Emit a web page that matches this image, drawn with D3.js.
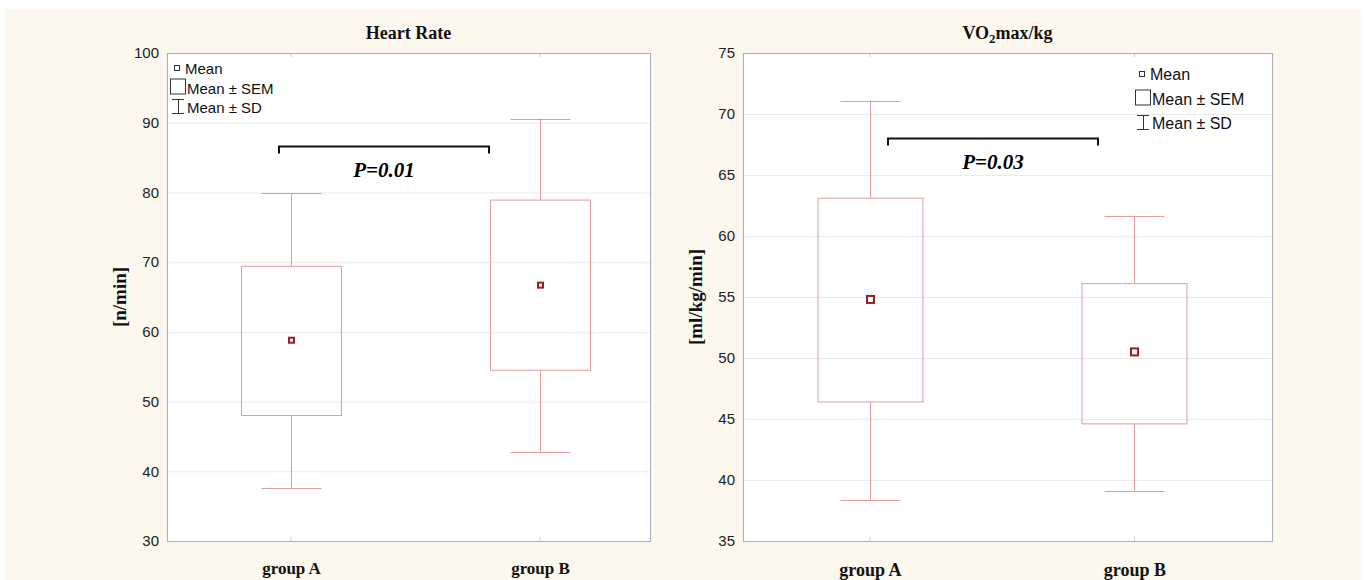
<!DOCTYPE html>
<html>
<head>
<meta charset="utf-8">
<script src="https://cdn.jsdelivr.net/npm/d3@7"></script>
<style>
  html, body { margin: 0; padding: 0; background: #fff; }
  svg { display: block; }
</style>
</head>
<body>
<svg id="chart" width="1365" height="580"></svg>
<script>
// data
var groups = [ "group A", "group B" ];

// heart rate [n/min]
var hrMean = [ 58.8, 66.7 ];
var hrSemLo = [ 48.0, 54.5 ];
var hrSemHi = [ 69.4, 78.9 ];
var hrSdLo = [ 37.6, 42.8 ];
var hrSdHi = [ 79.9, 90.6 ];
var hrTicks = [ 30, 40, 50, 60, 70, 80, 90, 100 ];

// VO2max/kg [ml/kg/min]
var voMean = [ 54.8, 50.5 ];
var voSemLo = [ 46.4, 44.6 ];
var voSemHi = [ 63.1, 56.1 ];
var voSdLo = [ 38.4, 39.1 ];
var voSdHi = [ 71.1, 61.6 ];
var voTicks = [ 35, 40, 45, 50, 55, 60, 65, 70, 75 ];

var pText = [ "P=0.01", "P=0.03" ];
var bracketAt = [ 86.6, 68.0 ];

var svg = d3.select( "#chart" );

svg.append( "rect" )
    .attr( "x", 5 ).attr( "y", 9 )
    .attr( "width", 1356 ).attr( "height", 571 )
    .attr( "fill", "#fcf8ed" );

var boxColor = "#e39a9a";
var meanColor = "#9c1c22";
var frameColor = "#a9afbd";
var serif = "Liberation Serif, Times New Roman, serif";
var sans = "Liberation Sans, Arial, sans-serif";

function drawPanel( opt ) {
    var g = svg.append( "g" );
    var x = d3.scalePoint()
        .domain( groups )
        .range( [ opt.x0, opt.x1 ] )
        .padding( opt.pad )
        .align( opt.align );
    var y = d3.scaleLinear()
        .domain( [ opt.ticks[ 0 ], opt.ticks[ opt.ticks.length - 1 ] ] )
        .range( [ opt.y1, opt.y0 ] );

    g.append( "rect" )
        .attr( "x", opt.x0 ).attr( "y", opt.y0 )
        .attr( "width", opt.x1 - opt.x0 ).attr( "height", opt.y1 - opt.y0 )
        .attr( "fill", "#fff" );

    // grid
    g.selectAll( ".grid" )
        .data( opt.ticks.slice( 1, -1 ) )
        .enter().append( "line" )
        .attr( "x1", opt.x0 ).attr( "x2", opt.x1 )
        .attr( "y1", function( d ) { return y( d ) + 0.5; } )
        .attr( "y2", function( d ) { return y( d ) + 0.5; } )
        .attr( "stroke", "#ebebeb" );

    // y axis
    var yAxis = d3.axisLeft( y ).tickValues( opt.ticks ).tickSize( 0 ).tickPadding( 8 );
    var ya = g.append( "g" ).attr( "transform", "translate(" + opt.x0 + ",0)" ).call( yAxis );
    ya.select( ".domain" ).remove();
    ya.selectAll( "text" )
        .attr( "font-family", sans )
        .attr( "font-size", 15 )
        .attr( "fill", "#222" );

    // x axis
    var xAxis = d3.axisBottom( x ).tickSize( 0 ).tickPadding( opt.xpad );
    var xa = g.append( "g" ).attr( "transform", "translate(0," + opt.y1 + ")" ).call( xAxis );
    xa.select( ".domain" ).remove();
    xa.selectAll( "text" )
        .attr( "font-family", serif )
        .attr( "font-weight", "bold" )
        .attr( "font-size", opt.xfs )
        .attr( "fill", "#111" );

    // small ticks top and bottom
    groups.forEach( function( d ) {
        g.append( "line" )
            .attr( "x1", x( d ) ).attr( "x2", x( d ) )
            .attr( "y1", opt.y0 ).attr( "y2", opt.y0 + 4 )
            .attr( "stroke", "#ccc" );
        g.append( "line" )
            .attr( "x1", x( d ) ).attr( "x2", x( d ) )
            .attr( "y1", opt.y1 ).attr( "y2", opt.y1 - 4 )
            .attr( "stroke", "#ccc" );
    } );

    // whiskers + boxes
    var bw = opt.boxW, cw = 60, ms = opt.markS;
    groups.forEach( function( d, i ) {
        var cx = Math.round( x( d ) ) + 0.5;
        g.append( "line" )
            .attr( "x1", cx ).attr( "x2", cx )
            .attr( "y1", y( opt.sdHi[ i ] ) ).attr( "y2", y( opt.semHi[ i ] ) )
            .attr( "stroke", boxColor );
        g.append( "line" )
            .attr( "x1", cx ).attr( "x2", cx )
            .attr( "y1", y( opt.semLo[ i ] ) ).attr( "y2", y( opt.sdLo[ i ] ) )
            .attr( "stroke", boxColor );
        [ opt.sdHi[ i ], opt.sdLo[ i ] ].forEach( function( v ) {
            g.append( "line" )
                .attr( "x1", cx - cw / 2 ).attr( "x2", cx + cw / 2 )
                .attr( "y1", Math.round( y( v ) ) + 0.5 ).attr( "y2", Math.round( y( v ) ) + 0.5 )
                .attr( "stroke", boxColor );
        } );
        g.append( "rect" )
            .attr( "x", cx - bw / 2 ).attr( "y", y( opt.semHi[ i ] ) )
            .attr( "width", bw ).attr( "height", y( opt.semLo[ i ] ) - y( opt.semHi[ i ] ) )
            .attr( "fill", "none" )
            .attr( "stroke", boxColor );
        g.append( "rect" )
            .attr( "x", cx - ms / 2 ).attr( "y", y( opt.mean[ i ] ) - ms / 2 )
            .attr( "width", ms ).attr( "height", ms )
            .attr( "fill", "#fff" )
            .attr( "stroke", meanColor )
            .attr( "stroke-width", 2 );
    } );

    // frame
    g.append( "rect" )
        .attr( "x", opt.x0 + 0.5 ).attr( "y", opt.y0 + 0.5 )
        .attr( "width", opt.x1 - opt.x0 ).attr( "height", opt.y1 - opt.y0 )
        .attr( "fill", "none" )
        .attr( "stroke", frameColor );

    // significance bracket
    var by = Math.round( y( opt.bracket ) ) + 0.5;
    g.append( "path" )
        .attr( "d", "M" + opt.bx0 + "," + ( by + 7 ) + "V" + by + "H" + opt.bx1 + "V" + ( by + 7 ) )
        .attr( "fill", "none" )
        .attr( "stroke", "#111" )
        .attr( "stroke-width", 2 );
    g.append( "text" )
        .attr( "x", ( opt.bx0 + opt.bx1 ) / 2 ).attr( "y", by + 30 )
        .attr( "text-anchor", "middle" )
        .attr( "font-family", serif )
        .attr( "font-weight", "bold" )
        .attr( "font-style", "italic" )
        .attr( "font-size", 21 )
        .text( opt.p );

    // title
    var t = g.append( "text" )
        .attr( "x", ( opt.x0 + opt.x1 ) / 2 ).attr( "y", 39 )
        .attr( "text-anchor", "middle" )
        .attr( "font-family", serif )
        .attr( "font-weight", "bold" )
        .attr( "font-size", 18 )
        .attr( "fill", "#111" );
    opt.title( t );

    // y label
    g.append( "text" )
        .attr( "transform", "translate(" + opt.ylx + "," + ( opt.y0 + opt.y1 ) / 2 + ") rotate(-90)" )
        .attr( "text-anchor", "middle" )
        .attr( "font-family", serif )
        .attr( "font-weight", "bold" )
        .attr( "font-size", 19 )
        .attr( "fill", "#111" )
        .text( opt.ylabel );

    // legend
    var lg = g.append( "g" )
        .attr( "transform", "translate(" + opt.lx + "," + opt.ly + ")" )
        .attr( "font-family", sans )
        .attr( "font-size", opt.lfs )
        .attr( "fill", "#111" );
    var ls = opt.lstep;
    lg.append( "rect" ).attr( "x", 4.5 ).attr( "y", -8.5 ).attr( "width", 5 ).attr( "height", 5 )
        .attr( "fill", "none" ).attr( "stroke", "#333" );
    lg.append( "text" ).attr( "x", 15 ).attr( "y", 0 ).text( "Mean" );
    lg.append( "rect" ).attr( "x", 0.5 ).attr( "y", ls - 14.5 ).attr( "width", 15 ).attr( "height", 15 )
        .attr( "fill", "none" ).attr( "stroke", "#333" );
    lg.append( "text" ).attr( "x", 17 ).attr( "y", ls ).text( "Mean \u00b1 SEM" );
    lg.append( "path" )
        .attr( "d", "M2," + ( 2 * ls - 13.5 ) + "H14M8.5," + ( 2 * ls - 13.5 ) + "V" + ( 2 * ls + 0.5 ) + "M2," + ( 2 * ls + 0.5 ) + "H14" )
        .attr( "fill", "none" ).attr( "stroke", "#333" );
    lg.append( "text" ).attr( "x", 17 ).attr( "y", 2 * ls ).text( "Mean \u00b1 SD" );
}

drawPanel( {
    x0: 167, x1: 650, y0: 53, y1: 541,
    pad: 0.47, align: 0.53, boxW: 100, markS: 5,
    ticks: hrTicks, xfs: 17, xpad: 21,
    mean: hrMean, semLo: hrSemLo, semHi: hrSemHi, sdLo: hrSdLo, sdHi: hrSdHi,
    bracket: bracketAt[ 0 ], bx0: 279, bx1: 489, p: pText[ 0 ],
    title: function( t ) { t.text( "Heart Rate" ); },
    ylabel: "[n/min]", ylx: 126,
    lx: 170, ly: 74, lfs: 15, lstep: 19.5
} );

drawPanel( {
    x0: 743, x1: 1272, y0: 53, y1: 541,
    pad: 0.5, align: 0.48, boxW: 105, markS: 7,
    ticks: voTicks, xfs: 18, xpad: 22,
    mean: voMean, semLo: voSemLo, semHi: voSemHi, sdLo: voSdLo, sdHi: voSdHi,
    bracket: bracketAt[ 1 ], bx0: 888, bx1: 1098, p: pText[ 1 ],
    title: function( t ) {
        t.append( "tspan" ).text( "VO" );
        t.append( "tspan" ).attr( "dy", 4 ).attr( "font-size", 13 ).text( "2" );
        t.append( "tspan" ).attr( "dy", -4 ).text( "max/kg" );
    },
    ylabel: "[ml/kg/min]", ylx: 702,
    lx: 1135, ly: 80, lfs: 16, lstep: 24.5
} );
</script>
</body>
</html>
